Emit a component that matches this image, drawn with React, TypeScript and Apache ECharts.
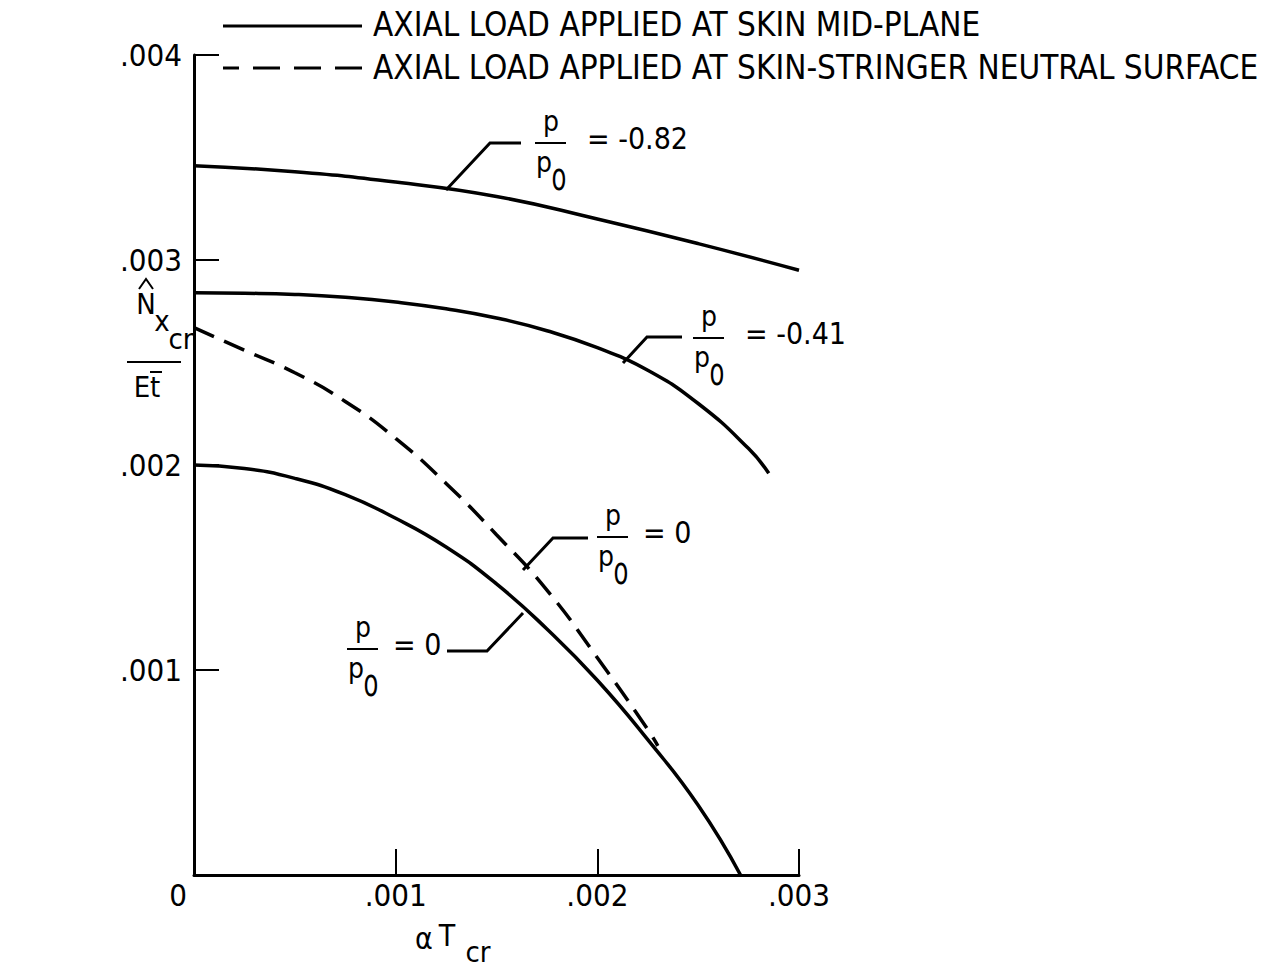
import React, { useEffect, useRef } from "react";
import * as echarts from "echarts";

// ---- data ----
const xTicks = [0, 0.001, 0.002, 0.003];
const yTicks = [0.001, 0.002, 0.003, 0.004];

const xNeg082 = [0, 0.0005, 0.001, 0.0015, 0.002, 0.0025, 0.003];
const yNeg082 = [0.00346, 0.00343, 0.00338, 0.00331, 0.0032, 0.00308, 0.00295];

const xNeg041 = [0, 0.00025, 0.0005, 0.00075, 0.001, 0.00125, 0.0015, 0.00175, 0.002, 0.00225, 0.0025, 0.00275, 0.00285];
const yNeg041 = [0.00284, 0.002838, 0.002832, 0.002818, 0.002795, 0.002762, 0.002717, 0.002655, 0.002572, 0.002462, 0.0023, 0.00208, 0.00196];

const xZeroMid = [0, 0.00025, 0.0005, 0.00075, 0.001, 0.00125, 0.0015, 0.00175, 0.002, 0.00225, 0.0025, 0.00271];
const yZeroMid = [0.002, 0.001983, 0.001935, 0.001855, 0.00174, 0.0016, 0.00142, 0.0012, 0.00095, 0.00066, 0.00034, 0];

const xZeroNeutral = [0, 0.00025, 0.0005, 0.00075, 0.001, 0.00125, 0.0015, 0.00175, 0.002, 0.00225, 0.0023];
const yZeroNeutral = [0.00267, 0.00256, 0.00245, 0.00231, 0.00213, 0.00191, 0.00166, 0.00139, 0.00106, 0.00071, 0.00063];

const legendSolid = "AXIAL LOAD APPLIED AT SKIN MID-PLANE";
const legendDashed = "AXIAL LOAD APPLIED AT SKIN-STRINGER NEUTRAL SURFACE";

const FONT = "'DejaVu Sans Condensed', 'Liberation Sans Narrow', 'DejaVu Sans', sans-serif";

const pairs = (xs: number[], ys: number[]) => xs.map((x, i) => [x, ys[i]]);

function fracLabel(bx: number, by: number, rhs: string, rhsDx: number) {
  const els: any[] = [
    { type: "line", shape: { x1: bx, y1: by, x2: bx + 31, y2: by }, style: { stroke: "#000", lineWidth: 2 } },
    { type: "text", x: bx + 16, y: by - 22, style: { text: "p", font: `28px ${FONT}`, fill: "#000", align: "center", verticalAlign: "middle" } },
    { type: "text", x: bx + 9, y: by + 19, style: { text: "p", font: `28px ${FONT}`, fill: "#000", align: "center", verticalAlign: "middle" } },
    { type: "text", x: bx + 24, y: by + 34, scaleY: 1.4, style: { text: "o", font: `27px ${FONT}`, fill: "#000", align: "center", verticalAlign: "middle" } },
    { type: "text", x: bx + rhsDx, y: by - 5, style: { text: rhs, font: `30px ${FONT}`, fill: "#000", align: "left", verticalAlign: "middle" } },
  ];
  return els;
}

function leader(points: number[][]) {
  return { type: "polyline", shape: { points }, style: { stroke: "#000", lineWidth: 3, fill: "none" } };
}

export default function App() {
  const ref = useRef<HTMLDivElement>(null);
  useEffect(() => {
    if (!ref.current) return;
    const chart = echarts.init(ref.current, undefined, { renderer: "svg" });
    const lineStyle = { color: "#000", width: 3.5 };
    const common = { type: "line", showSymbol: false, smooth: 0.5 };
    chart.setOption({
      animation: false,
      backgroundColor: "#fff",
      grid: { left: 194, right: 479, top: 55, bottom: 96 },
      xAxis: {
        type: "value",
        min: 0,
        max: 0.003,
        interval: 0.001,
        splitLine: { show: false },
        axisLine: { show: true, lineStyle: { color: "#000", width: 3 } },
        axisTick: { show: true, inside: true, length: 26, lineStyle: { color: "#000", width: 2 } },
        axisLabel: {
          margin: 4,
          color: "#000",
          fontSize: 31,
          fontFamily: FONT,
          formatter: (v: number) => {
            const i = xTicks.findIndex((t) => Math.abs(t - v) < 1e-9);
            if (i < 0) return "";
            if (i === 0) return "{z|0}";
            return "." + String(Math.round(v * 1000)).padStart(3, "0");
          },
          rich: { z: { fontSize: 31, fontFamily: FONT, color: "#000", padding: [0, 32, 0, 0] } },
        },
      },
      yAxis: {
        type: "value",
        min: 0,
        max: 0.004,
        interval: 0.001,
        splitLine: { show: false },
        axisLine: { show: true, lineStyle: { color: "#000", width: 3 } },
        axisTick: { show: true, inside: true, length: 25, lineStyle: { color: "#000", width: 2 } },
        axisLabel: {
          margin: 12,
          color: "#000",
          fontSize: 31,
          fontFamily: FONT,
          formatter: (v: number) => {
            const i = yTicks.findIndex((t) => Math.abs(t - v) < 1e-9);
            if (i < 0) return "";
            return "." + String(Math.round(v * 1000)).padStart(3, "0");
          },
        },
      },
      series: [
        { ...common, data: pairs(xNeg082, yNeg082), lineStyle },
        { ...common, data: pairs(xNeg041, yNeg041), lineStyle },
        { ...common, data: pairs(xZeroMid, yZeroMid), lineStyle },
        { ...common, data: pairs(xZeroNeutral, yZeroNeutral), lineStyle: { color: "#000", width: 3.5, type: [22, 11] } },
      ],
      graphic: [
        // legend
        { type: "line", shape: { x1: 223, y1: 26, x2: 362, y2: 26 }, style: { stroke: "#000", lineWidth: 3 } },
        { type: "text", x: 373, y: 24, style: { text: legendSolid, font: `33px ${FONT}`, fill: "#000", verticalAlign: "middle" } },
        { type: "line", shape: { x1: 223, y1: 68, x2: 366, y2: 68 }, style: { stroke: "#000", lineWidth: 3, lineDash: [27, 14], lineDashOffset: 11 } },
        { type: "text", x: 373, y: 67, style: { text: legendDashed, font: `33px ${FONT}`, fill: "#000", verticalAlign: "middle" } },
        // curve labels
        leader([[446, 190], [490, 143], [521, 143]]),
        ...fracLabel(535, 143, "= -0.82", 52),
        leader([[623, 363], [647, 337], [682, 337]]),
        ...fracLabel(693, 338, "= -0.41", 52),
        leader([[523, 570], [553, 538], [588, 538]]),
        ...fracLabel(597, 537, "= 0", 46),
        leader([[447, 651], [487, 651], [523, 613]]),
        ...fracLabel(347, 649, "= 0", 46),
        // y axis title
        { type: "polyline", shape: { points: [[139, 289], [146, 279], [153, 289]] }, style: { stroke: "#000", lineWidth: 2, fill: "none" } },
        { type: "text", x: 146, y: 304, style: { text: "N", font: `29px ${FONT}`, fill: "#000", align: "center", verticalAlign: "middle" } },
        { type: "text", x: 162, y: 321, style: { text: "x", font: `29px ${FONT}`, fill: "#000", align: "center", verticalAlign: "middle" } },
        { type: "text", x: 181, y: 339, style: { text: "cr", font: `29px ${FONT}`, fill: "#000", align: "center", verticalAlign: "middle" } },
        { type: "line", shape: { x1: 127, y1: 362, x2: 181, y2: 362 }, style: { stroke: "#000", lineWidth: 2 } },
        { type: "text", x: 147, y: 387, style: { text: "Et", font: `29px ${FONT}`, fill: "#000", align: "center", verticalAlign: "middle" } },
        { type: "line", shape: { x1: 150, y1: 372, x2: 162, y2: 372 }, style: { stroke: "#000", lineWidth: 2 } },
        // x axis title
        { type: "text", x: 424, y: 938, style: { text: "α", font: `30px ${FONT}`, fill: "#000", align: "center", verticalAlign: "middle" } },
        { type: "text", x: 447, y: 935, style: { text: "T", font: `30px ${FONT}`, fill: "#000", align: "center", verticalAlign: "middle" } },
        { type: "text", x: 478, y: 952, style: { text: "cr", font: `29px ${FONT}`, fill: "#000", align: "center", verticalAlign: "middle" } },
      ],
    });
    return () => chart.dispose();
  }, []);
  return <div ref={ref} style={{ position: "fixed", left: 0, top: 0, width: 1278, height: 971 }} />;
}
